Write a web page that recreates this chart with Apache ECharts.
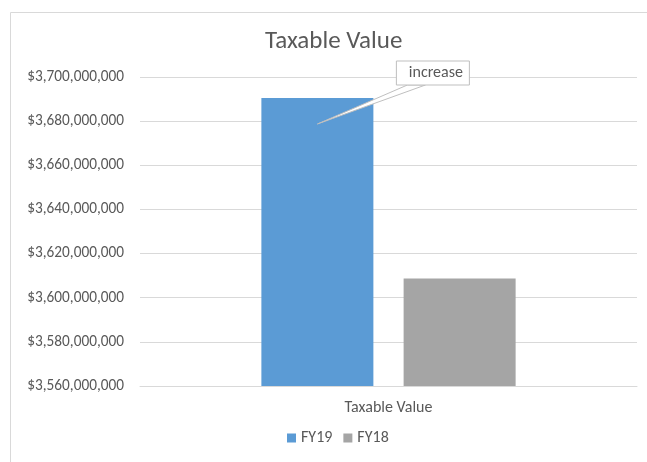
<!DOCTYPE html>
<html><head><meta charset="utf-8">
<script src="https://cdn.jsdelivr.net/npm/echarts@6/dist/echarts.min.js"></script>
<style>html,body{margin:0;padding:0;background:#fff}#c{width:647px;height:462px}</style>
</head><body><div id="c"></div>
<script>
const categories = ['Taxable Value'];
const seriesNames = ['FY19', 'FY18'];
const fy19 = [3690500000];
const fy18 = [3608700000];
const calloutText = 'increase';
const calloutAnchor = 3678700000;

const FONT = 'Carlito, Lato, sans-serif';
const chart = echarts.init(document.getElementById('c'));
function fmt(v){ return '$' + v.toLocaleString('en-US'); }
const border = { type: 'rect', left: 8, top: 10, shape: { width: 637, height: 450 },
  style: { fill: 'none', stroke: '#d9d9d9', lineWidth: 1 }, silent: true, z: -1 };
chart.setOption({
  animation: false,
  title: { text: 'Taxable Value', left: 260, top: 24,
    textStyle: { fontFamily: FONT, fontSize: 25, fontWeight: 'normal', color: '#595959' } },
  legend: { bottom: 11, left: 282, itemWidth: 9, itemHeight: 9, itemGap: 11, icon: 'rect',
    textStyle: { fontFamily: FONT, fontSize: 16, color: '#595959' }, data: seriesNames },
  grid: { left: 140, right: 10, top: 77, bottom: 76, containLabel: false },
  xAxis: { type: 'category', data: categories,
    axisLine: { lineStyle: { color: '#d9d9d9' } }, axisTick: { show: false },
    axisLabel: { fontFamily: FONT, fontSize: 16, color: '#595959', margin: 14 } },
  yAxis: { type: 'value', min: 3560000000, max: 3700000000, interval: 20000000,
    axisLine: { show: false }, axisTick: { show: false },
    splitLine: { lineStyle: { color: '#d9d9d9' } },
    axisLabel: { fontFamily: FONT, fontSize: 15.3, color: '#595959', margin: 16, formatter: fmt } },
  series: [
    { name: 'FY19', type: 'bar', data: fy19, barWidth: 112, barGap: '27%', itemStyle: { color: '#5b9bd5' } },
    { name: 'FY18', type: 'bar', data: fy18, barWidth: 112, itemStyle: { color: '#a5a5a5' } }
  ],
  graphic: [ border ]
});
// callout anchored to FY19 bar center via the library's scales
const lay = chart.getModel().getSeriesByIndex(0).getData().getItemLayout(0);
const cx = lay.x + lay.width / 2;
const py = chart.convertToPixel({ yAxisIndex: 0 }, calloutAnchor);
const bx = cx + 79, by = py - 63, bw = 73, bh = 24;
chart.setOption({
  graphic: [
    border,
    { type: 'polygon', shape: { points: [[cx, py], [bx + 11, by + bh], [bx + 29, by + bh]] },
      style: { fill: '#ffffff', stroke: '#bfbfbf', lineWidth: 1 }, z: 10 },
    { type: 'rect', shape: { x: bx, y: by, width: bw, height: bh },
      style: { fill: '#ffffff', stroke: '#bfbfbf', lineWidth: 1 }, z: 11 },
    { type: 'text', x: bx + bw / 2 + 3, y: by + bh / 2, z: 12,
      style: { text: calloutText, align: 'center', verticalAlign: 'middle',
        font: '16px ' + FONT, fill: '#595959' } }
  ]
});
</script></body></html>
